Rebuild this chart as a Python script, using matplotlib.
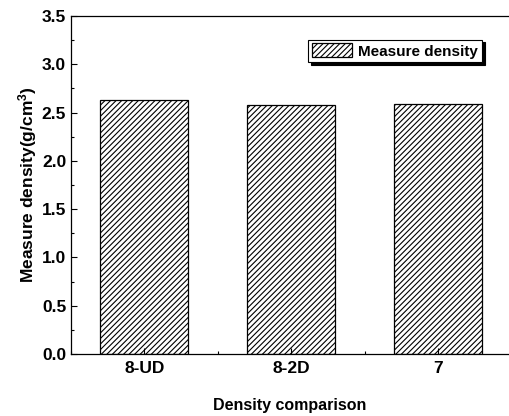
import matplotlib.pyplot as plt
from matplotlib.ticker import MultipleLocator

categories = ["8-UD", "8-2D", "7"]
density = [2.63, 2.575, 2.59]

plt.rcParams['font.family'] = ['Liberation Sans', 'DejaVu Sans']
plt.rcParams['font.weight'] = 'bold'
plt.rcParams['mathtext.fontset'] = 'custom'
plt.rcParams['mathtext.rm'] = 'Liberation Sans:bold'
plt.rcParams['mathtext.bf'] = 'Liberation Sans:bold'
plt.rcParams['mathtext.it'] = 'Liberation Sans:bold:italic'
plt.rcParams['hatch.linewidth'] = 0.8

fig = plt.figure(figsize=(5.09, 4.16), dpi=100)
ax = fig.add_axes([71 / 509, 62 / 416, 438 / 509, 338 / 416])

x = list(range(1, len(categories) + 1))
ax.bar(x, density, width=0.6, color='white', edgecolor='black',
       hatch='//////', linewidth=0.9, label='Measure density')

ax.set_xlim(0.5, 3.484)
ax.set_ylim(0, 3.5)
ax.set_xticks(x)
ax.set_xticklabels(categories)
ax.xaxis.set_minor_locator(MultipleLocator(0.5))
ax.yaxis.set_major_locator(MultipleLocator(0.5))
ax.yaxis.set_minor_locator(MultipleLocator(0.25))
ax.tick_params(which='both', direction='in', labelsize=12.5, width=0.8)
ax.tick_params(which='major', length=4.5)
ax.tick_params(which='minor', length=2.5)
ax.tick_params(axis='x', which='minor', bottom=True)
ax.tick_params(axis='x', which='major', pad=5)
for lab in ax.get_xticklabels() + ax.get_yticklabels():
    lab.set_fontweight('bold')

ax.spines['right'].set_visible(False)
for s in ['left', 'bottom', 'top']:
    ax.spines[s].set_linewidth(0.9)

ax.set_xlabel('Density comparison', fontsize=11.5, fontweight='bold', labelpad=16)
ax.set_ylabel('Measure density(g/cm$^3$)', fontsize=12.5, fontweight='bold', labelpad=2)

leg = ax.legend(loc='upper right', bbox_to_anchor=(0.938, 0.93), frameon=True,
                fancybox=False, shadow={'color': 'black', 'alpha': 1.0},
                fontsize=11, handlelength=2.6, handleheight=1.0,
                borderpad=0.25, handletextpad=0.4, borderaxespad=0)
leg.get_frame().set_edgecolor('black')
leg.get_frame().set_linewidth(0.8)

fig.savefig('out.png', dpi=100)
